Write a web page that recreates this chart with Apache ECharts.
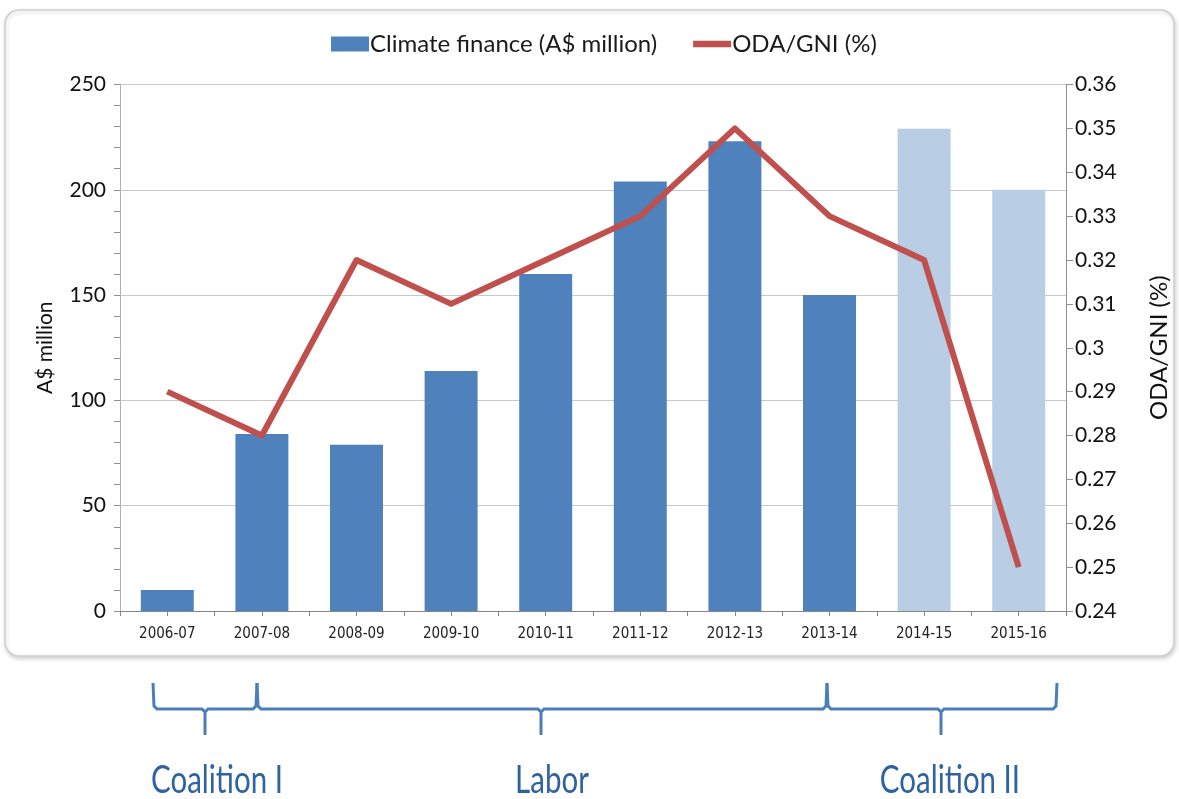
<!DOCTYPE html>
<html>
<head>
<meta charset="utf-8">
<script src="https://cdn.jsdelivr.net/npm/echarts@6/dist/echarts.min.js"></script>
<style>
html,body{margin:0;padding:0;background:#fff;}
#chart{width:1179px;height:799px;}
</style>
</head>
<body>
<div id="chart"></div>
<script>
// ---- data ----
const categories = ['2006-07','2007-08','2008-09','2009-10','2010-11','2011-12','2012-13','2013-14','2014-15','2015-16'];
const climateFinance = [10, 84, 79, 114, 160, 204, 223, 150, 229, 200];
const odaGni = [0.29, 0.28, 0.32, 0.31, 0.32, 0.33, 0.35, 0.33, 0.32, 0.25];
const budgetedYears = ['2014-15','2015-16'];
const periods = ['Coalition I','Labor','Coalition II'];

const DARK = '#4f81bd', LIGHT = '#b9cde5', RED = '#c0504d', BRACE = '#4a7ebb';
const FONT = 'Lato, "Liberation Sans", sans-serif';
const NARROW = '"Liberation Sans Narrow", "DejaVu Sans Condensed", Lato, sans-serif';

// horizontal squeeze for the tall, narrow period labels
const PERIOD_SIZE = 38;
const ctx = document.createElement('canvas').getContext('2d');
ctx.font = PERIOD_SIZE + 'px Lato';
const periodScaleX = Math.min(1, 132 / ctx.measureText('Coalition I').width);

const chart = echarts.init(document.getElementById('chart'));

function brace(x1, x2, xm) {
  const yTop = 683, yH = 709, yTip = 735;
  return {
    type: 'polyline',
    shape: { points: [[x1, yTop], [x1 + 1, yH - 3], [x1 + 4, yH], [xm - 3, yH], [xm, yH + 3], [xm, yTip], [xm, yH + 3], [xm + 3, yH], [x2 - 4, yH], [x2 - 1, yH - 3], [x2, yTop]] },
    style: { stroke: BRACE, lineWidth: 3, fill: null },
    silent: true
  };
}

function periodText(x, text) {
  return {
    type: 'text', x: x, y: 781, scaleX: periodScaleX,
    style: { text: text, fontFamily: FONT, fontSize: PERIOD_SIZE, fill: '#2f62a0', align: 'center', verticalAlign: 'middle' },
    silent: true
  };
}

const option = {
  backgroundColor: '#fff',
  animation: false,
  legend: {
    top: 27,
    left: 326,
    itemGap: 36,
    itemWidth: 38,
    itemHeight: 15,
    textStyle: { fontFamily: FONT, fontSize: 24, color: '#1a1a1a', padding: [0,0,0,-4] },
    data: [
      { name: 'Climate finance (A$ million)', icon: 'rect' },
      { name: 'ODA/GNI (%)', icon: 'path://M0,0 L40,0 L40,7 L0,7 Z' }
    ]
  },
  grid: { left: 120, right: 106, top: 84.5, bottom: 188, containLabel: false },
  xAxis: [
    {
      type: 'category',
      data: categories,
      axisLine: { lineStyle: { color: '#868686', width: 1 } },
      axisTick: { show: true, length: 5, lineStyle: { color: '#868686' } },
      axisLabel: { fontFamily: NARROW, fontSize: 15, color: '#222', margin: 16 }
    },
    {
      type: 'category',
      data: categories,
      position: 'bottom',
      axisLine: { show: false },
      axisTick: { show: true, alignWithLabel: true, length: 5, lineStyle: { color: '#868686' } },
      axisLabel: { show: false },
      splitLine: { show: false }
    }
  ],
  yAxis: [
    {
      type: 'value',
      min: 0, max: 250, interval: 50,
      name: 'A$ million',
      nameLocation: 'middle',
      nameGap: 64,
      nameRotate: 90,
      nameTextStyle: { fontFamily: FONT, fontSize: 21, color: '#111' },
      axisLine: { show: true, lineStyle: { color: '#b0b0b0' } },
      axisTick: { show: true, length: 6, lineStyle: { color: '#909090' } },
      minorTick: { show: true, splitNumber: 5, length: 6, lineStyle: { color: '#909090' } },
      axisLabel: { fontFamily: FONT, fontSize: 21, color: '#111', margin: 14 },
      splitLine: { lineStyle: { color: '#c8c8c8', width: 1.2 } }
    },
    {
      type: 'value',
      min: 0.24, max: 0.36, interval: 0.01,
      name: 'ODA/GNI (%)',
      nameLocation: 'middle',
      nameGap: 81,
      nameRotate: 90,
      nameTextStyle: { fontFamily: FONT, fontSize: 24, color: '#111' },
      axisLine: { show: true, lineStyle: { color: '#909090' } },
      axisTick: { show: true, length: 7, lineStyle: { color: '#909090' } },
      axisLabel: {
        fontFamily: FONT, fontSize: 21, color: '#111', margin: 9,
        formatter: v => String(Number(v.toFixed(2)))
      },
      splitLine: { show: false }
    }
  ],
  series: [
    {
      name: 'Climate finance (A$ million)',
      type: 'bar',
      xAxisIndex: 0,
      yAxisIndex: 0,
      barWidth: '56%',
      itemStyle: { color: DARK },
      data: climateFinance.map((v, i) => ({
        value: v,
        itemStyle: { color: budgetedYears.includes(categories[i]) ? LIGHT : DARK }
      }))
    },
    {
      name: 'ODA/GNI (%)',
      type: 'line',
      xAxisIndex: 0,
      yAxisIndex: 1,
      symbol: 'none',
      itemStyle: { color: RED },
      lineStyle: { color: RED, width: 6, join: 'round' },
      z: 5,
      data: odaGni
    }
  ],
  graphic: [
    {
      type: 'rect',
      z: -10,
      shape: { x: 5, y: 10, width: 1169, height: 646, r: 14 },
      style: { fill: '#fff', stroke: '#cfcfcf', lineWidth: 1.5, shadowColor: 'rgba(0,0,0,0.18)', shadowBlur: 4, shadowOffsetX: 1, shadowOffsetY: 2 },
      silent: true
    },
    brace(153, 257, 205),
    brace(257, 827, 541),
    brace(827, 1057, 941),
    periodText(217, periods[0]),
    periodText(552, periods[1]),
    periodText(950, periods[2])
  ]
};

chart.setOption(option);
</script>
</body>
</html>
